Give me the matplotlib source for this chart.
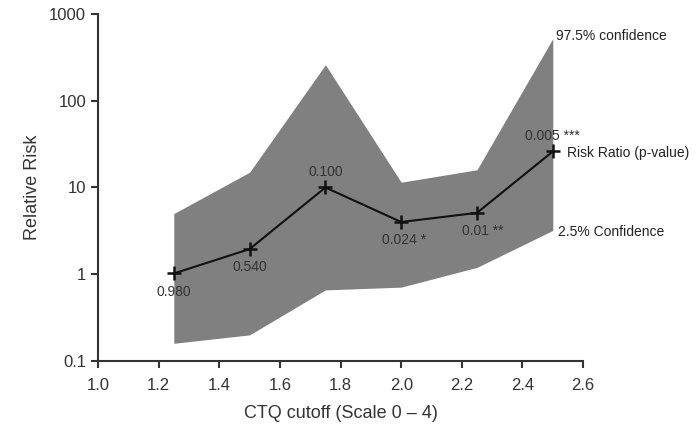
import matplotlib
matplotlib.use("Agg")
import matplotlib.pyplot as plt

# CTQ cutoff vs relative risk with 95% interval band
cutoffs = [1.25, 1.5, 1.75, 2.0, 2.25, 2.5]
risk_ratio = [1.02, 1.95, 10.0, 4.0, 5.1, 26.0]
upper_975 = [5.0, 15.0, 260.0, 11.5, 16.0, 520.0]
lower_025 = [0.16, 0.20, 0.66, 0.71, 1.2, 3.2]
p_labels = ["0.980", "0.540", "0.100", "0.024 *", "0.01 **", "0.005 ***"]
# label offsets (points) relative to each marker
label_offsets = [(0, -13), (0, -13), (0, 11), (2, -13), (4, -13), (0, 11)]

plt.rcParams["font.family"] = ["Liberation Sans", "DejaVu Sans"]

fig = plt.figure(figsize=(6.97, 4.26), dpi=100)
ax = fig.add_axes([0.1406, 0.1526, 0.696, 0.8146])

ax.fill_between(cutoffs, lower_025, upper_975, color="#808080", linewidth=0)
ax.plot(cutoffs, risk_ratio, color="#111111", linewidth=1.5, marker="+",
        markersize=10, markeredgewidth=1.8)

for x, y, lab, off in zip(cutoffs, risk_ratio, p_labels, label_offsets):
    ax.annotate(lab, (x, y), xytext=off, textcoords="offset points",
                ha="center", va="center", fontsize=10, color="#333333")

# series labels beside the last point
ax.annotate("97.5% confidence", (cutoffs[-1], upper_975[-1]), xytext=(2, -3),
            textcoords="offset points", ha="left", va="bottom", fontsize=10,
            color="#222222", annotation_clip=False)
ax.annotate("Risk Ratio (p-value)", (cutoffs[-1], risk_ratio[-1]), xytext=(10, -1),
            textcoords="offset points", ha="left", va="center", fontsize=10,
            color="#222222", annotation_clip=False)
ax.annotate("2.5% Confidence", (cutoffs[-1], lower_025[-1]), xytext=(4, -6),
            textcoords="offset points", ha="left", va="bottom", fontsize=10,
            color="#222222", annotation_clip=False)

ax.set_yscale("log")
ax.set_ylim(0.1, 1000)
ax.set_xlim(1.0, 2.6)
ax.set_xticks([1.0, 1.2, 1.4, 1.6, 1.8, 2.0, 2.2, 2.4, 2.6])
ax.set_xticklabels([f"{v:.1f}" for v in ax.get_xticks()])
ax.set_yticks([0.1, 1, 10, 100, 1000])
ax.set_yticklabels(["0.1", "1", "10", "100", "1000"])
ax.minorticks_off()

for side in ("top", "right"):
    ax.spines[side].set_visible(False)
for side in ("left", "bottom"):
    ax.spines[side].set_color("#333333")
    ax.spines[side].set_linewidth(1.5)
ax.tick_params(direction="out", length=5, width=1.5, color="#333333",
               labelsize=12, labelcolor="#333333")
ax.tick_params(axis="x", pad=7)

ax.set_xlabel("CTQ cutoff (Scale 0 \u2013 4)", fontsize=13, color="#333333", labelpad=9)
ax.set_ylabel("Relative Risk", fontsize=13, color="#333333", labelpad=6)

fig.savefig("out.png", dpi=100, facecolor="white")
